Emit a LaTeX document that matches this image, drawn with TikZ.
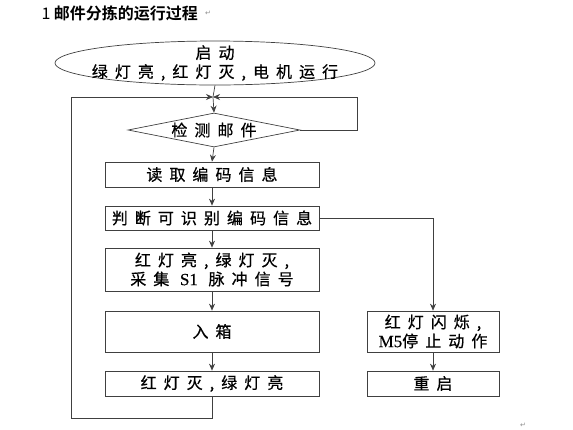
\documentclass[tikz,border=0pt]{standalone}
\usepackage{fontspec}
\usetikzlibrary{arrows.meta,shapes.geometric}
\newfontfamily\cjk[BoldFont={Noto Sans CJK SC Bold}]{Noto Sans CJK SC}
\newfontfamily\cjksp[LetterSpace=44,FakeBold=0.6]{Noto Sans CJK SC}
\newfontfamily\latin[FakeBold=0.4]{Liberation Serif}
\newfontfamily\symfont{DejaVu Sans}

\begin{document}
\begin{tikzpicture}[x=1pt,y=-1pt,>=Stealth,
    line/.style={draw=black!75,line width=0.7pt},
    flow/.style={line,->,>={Stealth[length=7pt,width=6pt]}},
    box/.style={line,rectangle,inner sep=0pt,align=center,
      font=\cjksp\fontsize{16}{19}\selectfont},
    retmark/.style={text=black!45,font=\symfont\fontsize{7}{8}\selectfont}]
  \useasboundingbox (0,0) rectangle (573,429);

  % title
  \node[anchor=west,font=\cjk\fontsize{16}{18}\selectfont] (title) at (38,13)
    {1 \textbf{邮件分拣的运行过程}};
  \node[retmark,anchor=west] (titlemark) at (title.east) {↵};

  % main column
  \node[line,ellipse,minimum width=320pt,minimum height=44pt] (start) at (215,63) {};
  \node[align=center,inner sep=0pt,font=\cjksp\fontsize{16}{19}\selectfont] (starttext)
    at (start.center) {启动\\绿灯亮,红灯灭,电机运行};
  \coordinate (jn) at (213,97);
  \node[box,diamond,aspect=5,minimum width=172pt,minimum height=34pt] (detect) at (214,130)
    {检测邮件};
  \node[box,minimum width=214pt,minimum height=25pt] (read) at (212,174.5) {读取编码信息};
  \node[box,minimum width=214pt,minimum height=24pt] (judge) at (212,218) {判断可识别编码信息};
  \node[box,minimum width=214pt,minimum height=43pt] (redon) at (212,269.5)
    {红灯亮,绿灯灭,\\采集 {\latin\fontsize{17}{19}\selectfont S1} 脉冲信号};
  \node[box,minimum width=214pt,minimum height=41pt] (inbox) at (212,331.5) {入箱};
  \node[box,minimum width=214pt,minimum height=25pt] (redoff) at (212,383.5) {红灯灭,绿灯亮};

  % error branch
  \node[box,minimum width=132pt,minimum height=41pt] (flash) at (433,331.5)
    {红灯闪烁,\\{\latin\fontsize{17}{19}\selectfont M5}停止动作};
  \node[box,minimum width=132pt,minimum height=25pt] (restart) at (433,383.5) {重启};

  \node[retmark] (endmark) at (523,425) {↵};

  % loops
  \coordinate (loopL) at (71,418);
  \coordinate (loopR) at (357,97);

  \draw[line] (start.south) -- (jn);
  \draw[flow] (jn) -- (detect.north);
  \draw[flow] (detect.east) -| (loopR) -- (jn);
  \draw[flow] (redoff.south) |- (loopL) |- (jn);
  \draw[flow] (detect.south) -- (read.north);
  \draw[flow] (read) -- (judge);
  \draw[flow] (judge) -- (redon);
  \draw[flow] (redon) -- (inbox);
  \draw[flow] (inbox) -- (redoff);
  \draw[flow] (judge.east) -| (flash.north);
  \draw[flow] (flash) -- (restart);
\end{tikzpicture}
\end{document}
